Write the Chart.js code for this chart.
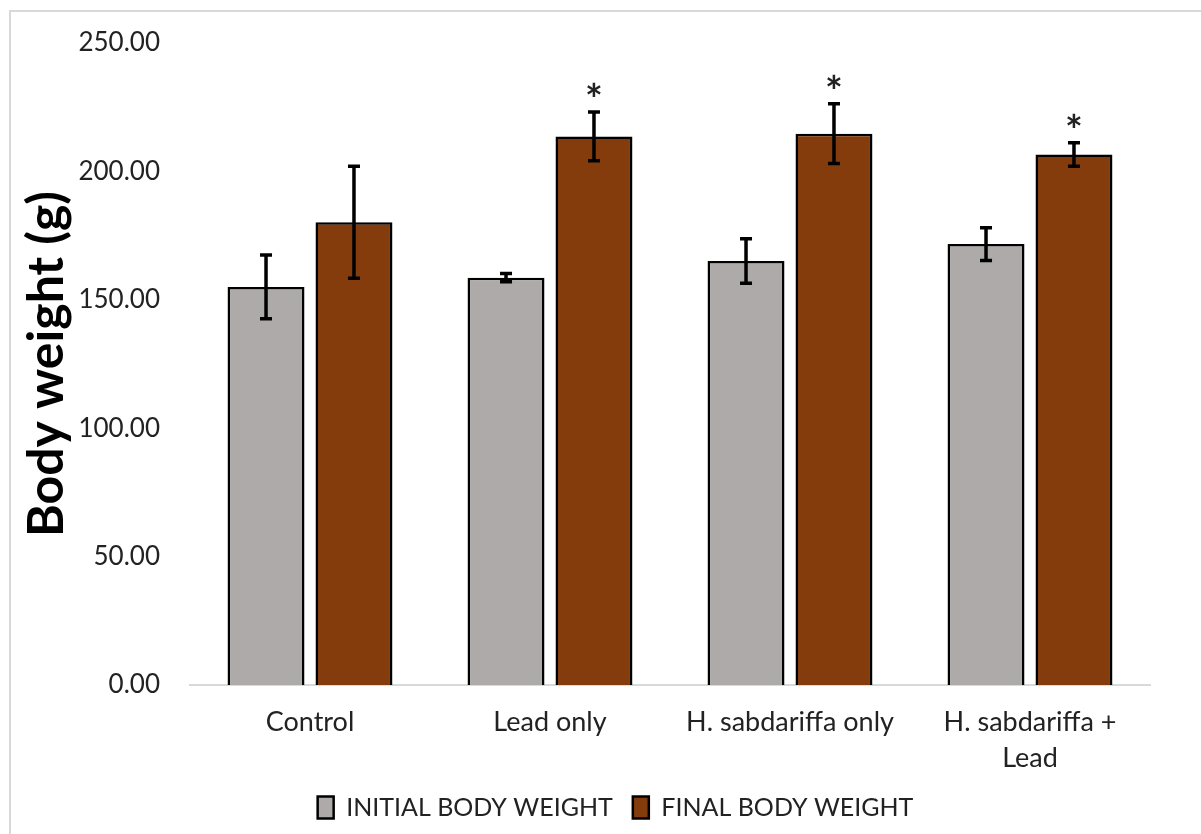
<!DOCTYPE html>
<html>
<head>
<meta charset="utf-8">
<script src="https://cdn.jsdelivr.net/npm/chart.js@4"></script>
<style>
  html, body { margin: 0; padding: 0; background: #fff; }
  #box {
    position: absolute; left: 9px; top: 10px;
    width: 1200px; height: 830px;
    box-sizing: border-box;
    border: 2px solid #d9d9d9;
  }
</style>
</head>
<body>
<div id="box"><canvas id="chart"></canvas></div>
<script>
// groups on the x axis
const groups = ['Control', 'Lead only', 'H. sabdariffa only', ['H. sabdariffa +', 'Lead']];
// mean body weights (g)
const initialWeight = [155.0, 158.6, 165.1, 171.7];
const finalWeight = [180.2, 213.6, 214.7, 206.6];
// error bar half-lengths (g)
const initialErr = [12.4, 1.6, 8.7, 6.4];
const finalErr = [21.8, 9.5, 11.6, 4.6];
// significance marks over the final bars
const finalMarks = ['', '*', '*', '*'];
const yTicks = [0, 50, 100, 150, 200, 250];

const FONT = 'Lato, "Open Sans", sans-serif';

// draws error bars and the asterisks from the arrays above
const errorBars = {
    id: 'errorBars',
    afterDatasetsDraw(chart) {
        const ctx = chart.ctx;
        const y = chart.scales.y;
        chart.data.datasets.forEach((ds, i) => {
            const meta = chart.getDatasetMeta(i);
            meta.data.forEach((bar, j) => {
                const v = ds.data[j];
                const e = ds.errors[j];
                const top = y.getPixelForValue(v + e);
                const bot = y.getPixelForValue(v - e);
                ctx.save();
                ctx.strokeStyle = '#000';
                ctx.lineWidth = 3.5;
                ctx.beginPath();
                ctx.moveTo(bar.x, top); ctx.lineTo(bar.x, bot);
                ctx.moveTo(bar.x - 6, top); ctx.lineTo(bar.x + 6, top);
                ctx.moveTo(bar.x - 6, bot); ctx.lineTo(bar.x + 6, bot);
                ctx.stroke();
                if (ds.marks && ds.marks[j]) {
                    ctx.fillStyle = '#222';
                    ctx.font = 'bold 42px ' + FONT;
                    ctx.textAlign = 'center';
                    ctx.textBaseline = 'alphabetic';
                    ctx.fillText(ds.marks[j], bar.x, top + 3);
                }
                ctx.restore();
            });
        });
    }
};

// legend sits centred on the whole figure, not on the plot area
const centerLegend = {
    id: 'centerLegend',
    afterLayout(chart) {
        const lg = chart.legend;
        if (lg) { lg.left += 35; lg.right += 35; }
    }
};

new Chart(document.getElementById('chart'), {
    type: 'bar',
    data: {
        labels: groups,
        datasets: [
            {
                label: 'INITIAL BODY WEIGHT',
                data: initialWeight,
                errors: initialErr,
                backgroundColor: '#AEAAAA',
                borderColor: '#000',
                borderWidth: 2.5,
                categoryPercentage: 0.733,
                barPercentage: 0.875
            },
            {
                label: 'FINAL BODY WEIGHT',
                data: finalWeight,
                errors: finalErr,
                marks: finalMarks,
                backgroundColor: '#843C0C',
                borderColor: '#000',
                borderWidth: 2.5,
                categoryPercentage: 0.733,
                barPercentage: 0.875
            }
        ]
    },
    options: {
        responsive: true,
        maintainAspectRatio: false,
        animation: false,
        layout: { padding: { top: 31, right: 57, bottom: 8, left: 0 } },
        scales: {
            x: {
                afterFit: s => { s.height = 90; },
                grid: { display: false, drawTicks: false },
                border: { display: true, color: '#d9d9d9', width: 2 },
                ticks: {
                    color: '#222',
                    font: { family: FONT, size: 27, lineHeight: 1.35 },
                    padding: 19,
                    maxRotation: 0
                }
            },
            y: {
                min: 0,
                max: 250,
                afterFit: s => { s.width = 179; s.paddingTop = 0; s.paddingBottom = 0; },
                afterBuildTicks: s => { s.ticks = yTicks.map(v => ({ value: v })); },
                grid: { display: false, drawTicks: false },
                border: { display: false },
                ticks: {
                    color: '#222',
                    font: { family: FONT, size: 26 },
                    padding: 30,
                    callback: v => Number(v).toFixed(2)
                },
                title: {
                    display: true,
                    text: 'Body weight (g)',
                    color: '#000',
                    font: { family: FONT, size: 50, weight: 'bold' },
                    padding: { top: 6, bottom: 0 }
                }
            }
        },
        plugins: {
            legend: {
                position: 'bottom',
                labels: {
                    color: '#222',
                    font: { family: FONT, size: 25 },
                    boxWidth: 16,
                    boxHeight: 22,
                    padding: 20
                }
            },
            tooltip: { enabled: false }
        }
    },
    plugins: [errorBars, centerLegend]
});
</script>
</body>
</html>
